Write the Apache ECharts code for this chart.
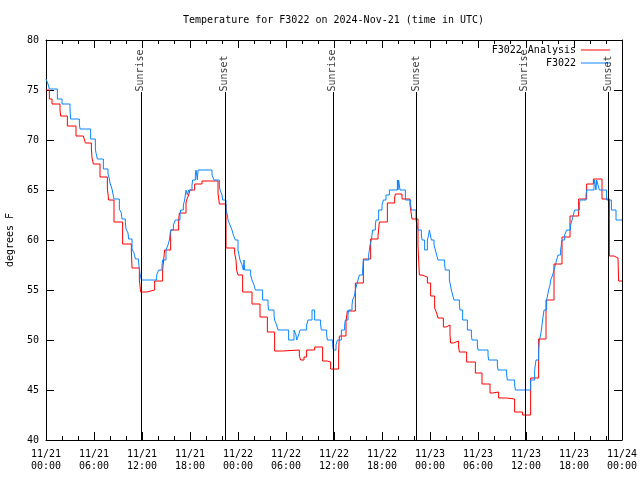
<!DOCTYPE html>
<html><head><meta charset="utf-8">
<script src="https://cdn.jsdelivr.net/npm/echarts/dist/echarts.min.js"></script>
<style>html,body{margin:0;padding:0;background:#fff}#c{width:640px;height:480px}</style>
</head><body><div id="c"></div>
<script>
// hours since 2024-11-21 00:00 UTC
const xTickLabels = ['11/21\n00:00','11/21\n06:00','11/21\n12:00','11/21\n18:00','11/22\n00:00','11/22\n06:00','11/22\n12:00','11/22\n18:00','11/23\n00:00','11/23\n06:00','11/23\n12:00','11/23\n18:00','11/24\n00:00'];
const sunriseHours = [11.92, 35.92, 59.92];
const sunsetHours = [22.42, 46.33, 70.33];
const analysisName = 'F3022 Analysis';
const observedName = 'F3022';
const analysisSeries = [[0,75.0],[0.42,74.1],[0.75,73.6],[1.75,73.0],[1.83,72.4],[2.67,71.4],[3.75,70.4],[4.67,70.3],[4.92,69.7],[5.67,69.2],[5.75,68.2],[5.92,67.6],[6.75,66.3],[7.67,65.2],[7.83,64.0],[8.5,61.8],[9.58,59.6],[10.67,58.9],[10.75,57.2],[11.67,56.0],[11.83,54.8],[12.58,55.0],[13.58,55.9],[14.58,57.0],[14.83,59.0],[15.58,61.0],[16.58,62.0],[16.67,62.7],[17.5,63.7],[17.58,64.0],[17.83,64.5],[18.0,65.0],[18.58,65.6],[19.5,65.9],[21.5,64.7],[21.67,63.6],[22.5,59.2],[23.58,58.7],[23.75,58.0],[23.83,57.0],[24.0,56.5],[24.58,54.8],[25.75,53.6],[26.75,52.3],[27.67,50.8],[28.58,48.9],[29.58,49.0],[31.67,48.4],[31.83,48.0],[32.25,48.3],[32.58,49.0],[33.58,49.3],[34.58,47.9],[35.17,48.0],[35.42,47.8],[35.58,47.1],[36.58,48.8],[36.67,50.4],[37.5,51.9],[37.67,52.9],[38.67,55.7],[39.67,58.1],[40.58,60.1],[41.5,60.4],[41.67,61.8],[42.67,63.7],[43.58,64.2],[43.67,64.6],[44.5,64.1],[45.5,63.5],[45.75,62.1],[46.5,59.4],[46.67,56.5],[47.0,56.3],[47.67,55.7],[48.08,54.4],[48.58,53.2],[48.83,52.7],[49.0,52.2],[49.67,51.3],[50.0,51.5],[50.5,50.5],[50.58,49.7],[50.92,49.9],[51.58,49.3],[51.67,48.8],[52.58,47.8],[53.67,46.7],[54.5,45.6],[55.5,44.7],[55.83,44.8],[56.58,44.2],[57.58,44.1],[58.58,42.8],[59.58,42.5],[60.58,46.2],[61.58,50.1],[62.5,54.0],[63.5,57.6],[64.5,60.3],[65.5,62.4],[66.58,64.1],[67.58,65.6],[68.42,66.1],[69.5,64.1],[70.42,58.4],[71.0,58.2],[71.5,58.4],[71.58,55.9],[72,55.9]];
const observedSeries = [[0,76.1],[0.25,75.6],[0.42,75.1],[1.42,74.1],[2.0,73.6],[3.0,73.1],[3.08,72.1],[4.17,71.6],[4.25,71.1],[5.58,70.1],[6.17,69.1],[6.25,68.7],[6.42,68.1],[7.17,67.1],[7.75,66.6],[7.92,66.1],[8.0,65.7],[8.25,65.1],[8.5,64.1],[9.17,63.1],[9.42,62.7],[9.5,62.1],[9.92,61.7],[10.0,61.1],[10.25,60.7],[10.33,60.1],[10.75,59.1],[11.0,58.7],[11.17,58.1],[11.58,57.7],[11.67,57.1],[11.75,56.6],[11.92,56.0],[13.83,56.5],[14.08,57.0],[14.5,57.5],[14.58,58.0],[15.0,59.0],[15.25,59.5],[15.42,60.0],[15.5,60.5],[15.58,61.0],[15.92,61.5],[16.17,62.0],[16.75,62.5],[16.83,63.0],[17.17,63.5],[17.33,64.0],[17.5,65.0],[17.67,64.5],[17.83,65.0],[18.25,65.5],[18.33,66.0],[18.67,66.5],[18.75,67.0],[18.92,66.0],[19.0,67.0],[20.75,66.5],[21.0,66.0],[21.67,65.5],[21.75,65.0],[22.0,64.5],[22.08,64.0],[22.5,63.0],[22.67,62.5],[22.75,62.0],[23.0,61.5],[23.25,61.0],[23.42,60.5],[23.67,60.0],[24.0,59.0],[24.25,58.0],[24.5,57.5],[24.67,57.0],[24.75,58.0],[24.83,57.0],[25.58,56.5],[25.75,56.0],[26.0,55.5],[26.17,55.0],[27.08,54.0],[27.75,53.5],[27.83,53.0],[28.5,52.5],[28.58,52.0],[28.83,51.5],[29.0,51.0],[30.33,50.0],[31.0,51.0],[31.25,50.5],[31.33,50.0],[31.58,50.5],[31.75,51.0],[32.58,51.5],[32.75,52.0],[33.25,53.0],[33.58,52.0],[34.33,51.5],[34.42,51.0],[35.08,50.5],[35.17,50.0],[35.83,49.5],[35.92,49.0],[36.25,49.5],[36.42,50.0],[36.92,51.0],[37.33,51.5],[37.42,52.0],[37.75,52.5],[37.83,53.0],[38.25,53.5],[38.33,54.0],[38.58,54.5],[38.67,55.0],[38.83,55.5],[39.0,56.0],[39.17,56.5],[39.58,57.0],[39.67,58.0],[40.33,58.5],[40.42,59.0],[40.5,59.5],[40.67,60.0],[40.83,61.0],[41.17,61.5],[41.25,62.0],[41.58,63.0],[42.0,63.5],[42.17,64.0],[42.5,64.5],[42.92,65.0],[43.92,66.0],[44.0,65.0],[44.08,66.0],[44.25,65.0],[44.92,64.0],[45.58,63.5],[45.67,63.0],[46.25,62.0],[46.5,61.0],[46.92,60.5],[47.0,60.0],[47.33,59.0],[47.67,60.0],[47.83,60.5],[47.92,61.0],[48.17,60.0],[48.5,59.5],[48.67,59.0],[48.83,58.5],[49.0,58.0],[49.83,57.5],[49.92,57.0],[50.42,56.0],[50.67,55.0],[50.83,54.5],[51.0,54.0],[51.67,53.5],[51.75,53.0],[52.08,52.0],[52.67,51.0],[53.17,50.5],[53.25,50.0],[53.92,49.5],[54.0,49.0],[55.25,48.5],[55.33,48.0],[56.42,47.5],[56.5,47.0],[57.58,46.5],[57.67,46.0],[58.58,45.5],[58.67,45.0],[60.58,46.0],[61.08,47.0],[61.25,48.0],[61.58,49.0],[61.67,50.0],[61.83,50.5],[61.92,51.0],[62.0,51.5],[62.08,52.0],[62.25,53.0],[62.58,54.0],[62.83,55.0],[63.0,55.5],[63.08,56.0],[63.33,56.5],[63.5,57.0],[63.67,57.5],[63.83,58.0],[64.0,58.5],[64.33,59.0],[64.5,60.0],[64.83,60.5],[65.08,61.0],[65.58,61.5],[65.75,62.0],[65.92,62.5],[66.08,63.0],[66.67,63.5],[66.75,64.0],[67.5,64.5],[67.58,65.0],[68.5,65.5],[68.58,66.0],[68.75,65.0],[68.83,66.0],[69.0,65.5],[69.17,65.0],[70.08,64.0],[70.67,63.0],[71.25,62.0],[72,62.0]];

const FONT = 'DejaVu Sans Mono';
const lineTop = 74.8;
const sunEvents = sunriseHours.map(h => [h, 'Sunrise']).concat(sunsetHours.map(h => [h, 'Sunset']));

const tickStyle = {color:'#000', width:1};
function xAx(pos, labels){
  return {type:'value', min:0, max:72, interval:6, position:pos,
    axisLine:{show:true, onZero:false, lineStyle:tickStyle},
    axisTick:{show:true, inside:true, length:8, lineStyle:tickStyle},
    minorTick:{show:true, splitNumber:3, length:4, lineStyle:tickStyle},
    splitLine:{show:false}, minorSplitLine:{show:false},
    axisLabel:{show:labels, color:'#000', fontFamily:FONT, fontSize:10, lineHeight:12, margin:8,
      formatter: v => xTickLabels[Math.round(v/6)]}};
}
function yAx(pos, labels){
  const a = {type:'value', min:40, max:80, interval:5, position:pos,
    axisLine:{show:true, onZero:false, lineStyle:tickStyle},
    axisTick:{show:true, inside:true, length:8, lineStyle:tickStyle},
    splitLine:{show:false},
    axisLabel:{show:labels, color:'#000', fontFamily:FONT, fontSize:10, margin:7}};
  if (labels) {
    a.name = 'degrees F'; a.nameLocation = 'middle'; a.nameGap = 31; a.nameRotate = 90;
    a.nameTextStyle = {color:'#000', fontFamily:FONT, fontSize:10};
  }
  return a;
}
const chart = echarts.init(document.getElementById('c'), null, {renderer:'canvas'});
chart.setOption({
  animation:false,
  backgroundColor:'#fff',
  title:{text:'Temperature for F3022 on 2024-Nov-21 (time in UTC)', left:183, top:15, padding:0,
    textStyle:{color:'#000', fontFamily:FONT, fontSize:10, fontWeight:'normal'}},
  grid:{left:46, right:18, top:40, bottom:40, containLabel:false, outerBoundsMode:'none'},
  legend:[
    {data:[{name:analysisName, icon:'rect'}], right:30, top:45, padding:0, align:'right', itemWidth:29, itemHeight:1,
      textStyle:{color:'#000', fontFamily:FONT, fontSize:10}},
    {data:[{name:observedName, icon:'rect'}], right:30, top:58, padding:0, align:'right', itemWidth:29, itemHeight:1,
      textStyle:{color:'#000', fontFamily:FONT, fontSize:10}}
  ],
  xAxis:[xAx('bottom', true), xAx('top', false)],
  yAxis:[yAx('left', true), yAx('right', false)],
  series:[
    {name:'sunlines', type:'line', data:[], xAxisIndex:0, yAxisIndex:0, silent:true, z:1,
      markLine:{silent:true, symbol:['none','none'], label:{show:false},
        lineStyle:{color:'#000', width:1, type:'solid'},
        data: sunEvents.map(e => [{coord:[e[0], 40]}, {coord:[e[0], lineTop]}])}},
    {name:'sunlabels', type:'scatter', data: sunEvents.map(e => [e[0], lineTop, e[1]]), symbolSize:1,
      itemStyle:{color:'rgba(0,0,0,0)'}, silent:true, z:5,
      label:{show:true, formatter: p => p.data[2], rotate:90, position:[0,0], align:'left', verticalAlign:'middle',
        color:'#000', fontFamily:FONT, fontSize:10}},
    {name:analysisName, type:'line', step:'end', data:analysisSeries, showSymbol:false, z:3,
      lineStyle:{color:'#ff0000', width:1}, itemStyle:{color:'#ff0000'}},
    {name:observedName, type:'line', step:'end', data:observedSeries, showSymbol:false, z:4,
      lineStyle:{color:'#0a84ff', width:1}, itemStyle:{color:'#0a84ff'}}
  ]
});
</script></body></html>
